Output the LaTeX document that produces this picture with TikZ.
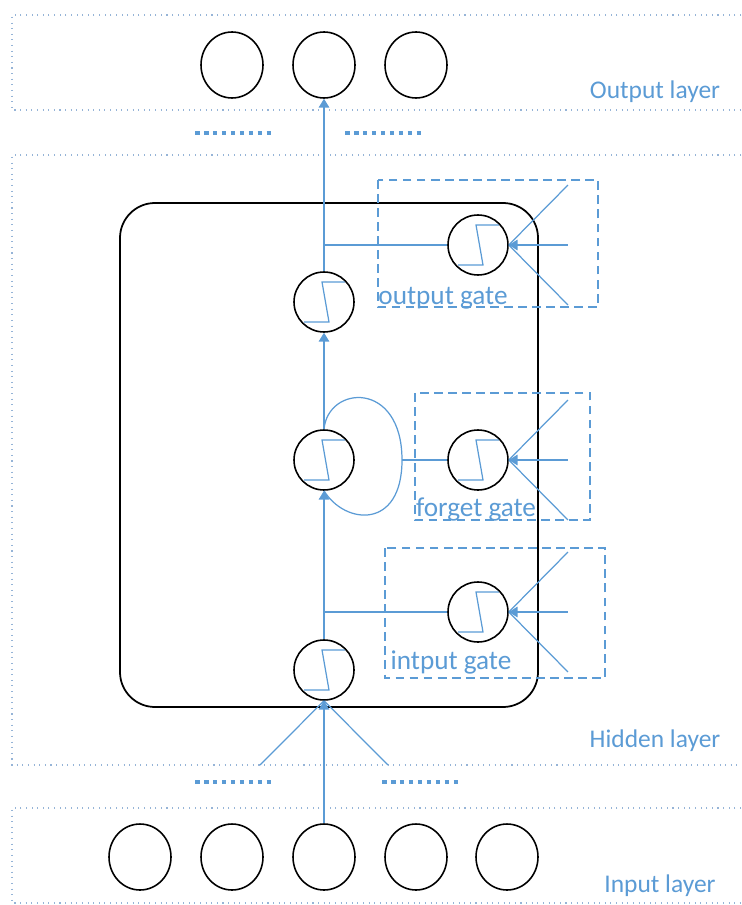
\documentclass[tikz,border=0pt]{standalone}
\usepackage{fontspec}
\setmainfont{Carlito}
\usetikzlibrary{arrows.meta,shapes.geometric}
\definecolor{lblue}{RGB}{91,155,213}
\definecolor{dotblue}{RGB}{150,180,215}
\begin{document}
\begin{tikzpicture}[x=0.02cm,y=-0.02cm,
  unit/.style={ellipse,draw=black,line width=0.9pt,minimum width=1.24cm,minimum height=1.32cm,inner sep=0pt},
  sig/.style={circle,draw=black,line width=0.9pt,minimum size=1.2cm,inner sep=0pt,
    path picture={\draw[lblue,line width=0.7pt]([shift={(0.42cm,0.4cm)}]path picture bounding box.center)
      --++(-0.46cm,0)--++(0.14cm,-0.8cm)--++(-0.5cm,0);}},
  conn/.style={lblue,line width=0.7pt},
  arr/.style={conn,-{Triangle[width=6pt,length=5pt]}},
  layerbox/.style={dotblue,line width=0.6pt,dash pattern=on 0.6pt off 2.6pt},
  gatebox/.style={lblue,line width=1.1pt,dash pattern=on 5pt off 3pt},
  dots/.style={lblue,line width=2.6pt,dash pattern=on 2.6pt off 2.5pt},
  lbl/.style={text=lblue,font=\fontsize{14.5}{17}\selectfont,inner sep=0pt},
  glbl/.style={text=lblue,font=\fontsize{15.5}{18}\selectfont,inner sep=0pt}]
\useasboundingbox (0,0) rectangle (741,905);

\draw[layerbox](741,15)-|(12,110)--(741,110);
\draw[layerbox](741,155)-|(12,765)--(741,765);
\draw[layerbox](741,808)-|(12,903)--(741,903);
\draw[dots](195,133)--(272,133);
\draw[dots](345,133)--(422,133);
\draw[dots](195,782)--(272,782);
\draw[dots](382,782)--(459,782);

\node[lbl](outlbl) at (655,92){Output layer};
\node[lbl](hidlbl) at (655,741){Hidden layer};
\node[lbl](inlbl) at (660,886){Input layer};

\node[unit](out1) at (232,65){};
\node[unit](out2) at (324,65){};
\node[unit](out3) at (416,65){};
\foreach \i/\x in {1/140,2/232,3/324,4/416,5/507}
  \node[unit](in\i) at (\x,857){};

\draw[black,line width=1pt,rounded corners=0.7cm](120,203) rectangle (538,707);

\draw[gatebox](378,180) rectangle (598,307);
\draw[gatebox](415,393) rectangle (590,520);
\draw[gatebox](385,548) rectangle (605,678);

\node[sig](outn) at (324,302){};
\node[sig](mem) at (324,460){};
\node[sig](inp) at (324,670){};
\node[sig](og) at (478,245){};
\node[sig](fg) at (478,460){};
\node[sig](ig) at (478,612){};

\node[glbl](oglbl) at (443,298){output gate};
\node[glbl](fglbl) at (476,510){forget gate};
\node[glbl](iglbl) at (451,662){intput gate};

\coordinate (hl) at (260,765);
\coordinate (hr) at (388,765);
\draw[arr](in3)--(inp);
\draw[conn](hl)--(inp.south);
\draw[conn](hr)--(inp.south);
\draw[arr](inp)--(mem);
\draw[arr](mem)--(outn);
\draw[arr](outn)--(out2);
\draw[conn](og-|outn)--(og);
\draw[conn](ig-|inp)--(ig);
\coordinate (loop) at (402,460);
\draw[conn](mem.north)..controls(328,385)and(402,380)..(loop)
  ..controls(402,530)and(345,525)..(mem.south);
\draw[conn](loop)--(fg);

\foreach \g in {og,fg,ig}{
  \coordinate (\g t) at ([xshift=1.8cm,yshift=1.2cm]\g.center);
  \coordinate (\g m) at ([xshift=1.8cm]\g.center);
  \coordinate (\g b) at ([xshift=1.8cm,yshift=-1.2cm]\g.center);
  \draw[conn](\g t)--(\g.east);
  \draw[conn](\g b)--(\g.east);
  \draw[arr](\g m)--(\g);
}
\end{tikzpicture}
\end{document}
